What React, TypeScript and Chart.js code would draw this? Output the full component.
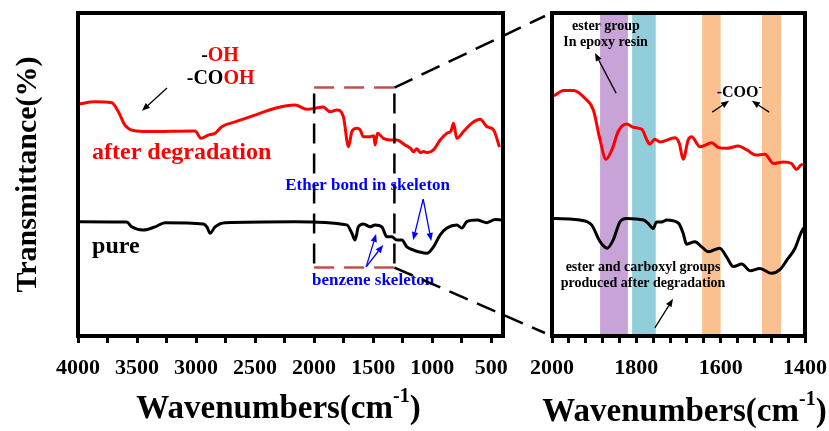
import React, { useEffect, useRef } from 'react';
import { Chart, registerables } from 'chart.js';
Chart.register(...registerables);

const FONT = "'Liberation Serif', 'Times New Roman', serif";

// ---------- Left panel: full spectrum ----------
const fullAfterWn = [4000, 3856, 3714, 3658, 3602, 3531, 3404, 3008, 2958, 2896, 2839, 2782, 2669, 2500, 2330, 2161, 2062, 1992, 1924, 1864, 1808, 1752, 1709, 1680, 1638, 1610, 1582, 1525, 1495, 1483, 1464, 1413, 1356, 1299, 1229, 1180, 1158, 1130, 1100, 1074, 1040, 989, 932, 875, 840, 819, 791, 735, 664, 593, 536, 480, 430];
const fullAfterT = [71.8, 72.5, 72.2, 69.4, 65.3, 63.6, 63.3, 63.5, 61.2, 62.2, 62.8, 64.8, 66.3, 68.4, 70.5, 71.5, 70.2, 70.5, 70.9, 69.4, 70.0, 67.9, 58.6, 63.3, 64.3, 63.8, 61.7, 61.7, 62.0, 59.1, 62.8, 61.2, 60.7, 60.7, 59.1, 58.0, 57.0, 58.0, 56.8, 57.1, 56.8, 57.6, 60.7, 62.8, 63.5, 65.9, 61.2, 63.3, 65.9, 67.1, 64.8, 63.8, 58.5];
const fullPureWn = [4000, 3587, 3545, 3447, 3347, 3263, 2938, 2907, 2881, 2839, 2754, 2161, 1723, 1681, 1653, 1625, 1582, 1525, 1483, 1426, 1384, 1341, 1299, 1257, 1214, 1158, 1116, 1045, 989, 932, 875, 791, 749, 706, 621, 536, 466, 410];
const fullPureT = [35.4, 35.3, 33.8, 32.8, 33.8, 35.1, 34.7, 33.7, 31.8, 33.8, 35.1, 35.4, 34.4, 31.9, 29.7, 33.8, 34.7, 33.8, 34.4, 33.8, 30.7, 30.7, 29.7, 29.7, 27.6, 26.6, 26.1, 25.6, 27.6, 31.3, 33.4, 34.4, 33.4, 35.4, 35.9, 35.1, 36.1, 35.9];
const fullTicks = [4000, 3750, 3500, 3250, 3000, 2750, 2500, 2250, 2000, 1750, 1500, 1250, 1000, 750, 500];
const fullTickLabels = [4000, 3500, 3000, 2500, 2000, 1500, 1000, 500];
const zoomBoxWn = [2000, 1320];
const zoomBoxT = [76.9, 21.2];

// ---------- Right panel: 2000-1400 zoom ----------
const zoomAfterWn = [2000, 1993, 1973, 1949, 1922, 1902, 1886, 1872, 1858, 1843, 1823, 1807, 1787, 1775, 1768, 1756, 1744, 1708, 1698, 1689, 1677, 1669, 1649, 1621, 1606, 1586, 1558, 1538, 1515, 1495, 1475, 1451, 1432, 1420, 1410, 1405];
const zoomAfterT = [74.3, 74.6, 76.0, 76.0, 73.6, 70.0, 60.7, 54.7, 57.6, 63.3, 65.6, 64.6, 64.0, 60.7, 59.4, 60.9, 60.1, 61.4, 59.6, 54.7, 60.7, 61.7, 58.6, 59.8, 58.4, 58.1, 58.8, 57.6, 56.0, 56.3, 53.4, 53.9, 53.4, 51.6, 52.9, 53.2];
const zoomPureWn = [2000, 1993, 1934, 1906, 1886, 1869, 1855, 1839, 1823, 1783, 1772, 1760, 1752, 1740, 1728, 1700, 1689, 1681, 1661, 1645, 1629, 1602, 1586, 1570, 1550, 1530, 1507, 1479, 1459, 1443, 1424, 1410, 1403];
const zoomPureT = [36.4, 36.4, 35.9, 34.4, 29.2, 27.2, 29.7, 35.3, 36.4, 35.9, 34.9, 33.3, 35.3, 35.3, 35.9, 34.9, 31.8, 28.4, 29.2, 27.6, 26.1, 27.2, 24.5, 21.5, 22.3, 20.2, 20.9, 19.4, 20.6, 23.5, 27.1, 31.8, 33.5];
const zoomTicks = [2000, 1960, 1920, 1880, 1840, 1800, 1760, 1720, 1680, 1640, 1600, 1560, 1520, 1480, 1440, 1400];
const zoomTickLabels = [2000, 1800, 1600, 1400];
const bandStartWn = [1886, 1810, 1644, 1502];
const bandEndWn = [1820, 1754, 1600, 1457];
const bandColors = ['rgb(200,163,215)', 'rgb(146,205,220)', 'rgb(250,192,144)', 'rgb(250,192,144)'];

type Part = { t: string; c?: string; sup?: boolean };
type Label = { parts: Part[]; wn: number; v: number; size: number; align: 'left' | 'center' };
type Arrow = { from: [number, number]; to: [number, number]; color: string };

const RED = '#ff0000';
const BLUE = '#0000ff';
const BLACK = '#000000';

const leftLabels: Label[] = [
  { parts: [{ t: '-', c: BLACK }, { t: 'OH', c: RED }], wn: 2797, v: 86.7, size: 20, align: 'center' },
  { parts: [{ t: '-CO', c: BLACK }, { t: 'OH', c: RED }], wn: 2792, v: 79.5, size: 20, align: 'center' },
  { parts: [{ t: 'after degradation', c: RED }], wn: 3881, v: 56.6, size: 24, align: 'left' },
  { parts: [{ t: 'pure', c: BLACK }], wn: 3881, v: 27.7, size: 24, align: 'left' },
  { parts: [{ t: 'Ether bond in skeleton', c: BLUE }], wn: 1547, v: 46.5, size: 17, align: 'center' },
  { parts: [{ t: 'benzene skeleton', c: BLUE }], wn: 1500, v: 17.1, size: 17, align: 'center' },
];
const leftArrows: Arrow[] = [
  { from: [3246, 76.8], to: [3458, 69.7], color: BLACK },
  { from: [1076, 42.4], to: [1161, 29.7], color: BLUE },
  { from: [1076, 42.4], to: [1008, 29.4], color: BLUE },
  { from: [1559, 21.4], to: [1475, 31.6], color: BLUE },
  { from: [1559, 21.4], to: [1415, 28.2], color: BLUE },
];
const rightLabels: Label[] = [
  { parts: [{ t: 'ester group' }], wn: 1872, v: 96.0, size: 14, align: 'center' },
  { parts: [{ t: 'In epoxy resin' }], wn: 1873, v: 91.0, size: 14, align: 'center' },
  { parts: [{ t: '-COO' }, { t: '-', sup: true }], wn: 1556, v: 75.2, size: 16, align: 'center' },
  { parts: [{ t: 'ester and carboxyl groups' }], wn: 1784, v: 21.1, size: 14, align: 'center' },
  { parts: [{ t: 'produced after degradation' }], wn: 1784, v: 16.4, size: 14, align: 'center' },
];
const rightArrows: Arrow[] = [
  { from: [1848, 75.2], to: [1898, 87.6], color: BLACK },
  { from: [1620, 69.3], to: [1580, 72.8], color: BLACK },
  { from: [1485, 69.3], to: [1526, 72.8], color: BLACK },
  { from: [1756, 2.5], to: [1713, 11.5], color: BLACK },
];

function drawParts(ctx: CanvasRenderingContext2D, parts: Part[], x: number, y: number, size: number, align: string) {
  const main = `bold ${size}px ${FONT}`;
  const sup = `bold ${Math.round(size * 0.62)}px ${FONT}`;
  const widths = parts.map((p) => {
    ctx.font = p.sup ? sup : main;
    return ctx.measureText(p.t).width;
  });
  const total = widths.reduce((a, b) => a + b, 0);
  let cx = align === 'left' ? x : x - total / 2;
  ctx.textAlign = 'left';
  ctx.textBaseline = 'middle';
  parts.forEach((p, i) => {
    ctx.font = p.sup ? sup : main;
    ctx.fillStyle = p.c || BLACK;
    ctx.fillText(p.t, cx, p.sup ? y - size * 0.38 : y);
    cx += widths[i];
  });
}

function drawArrow(ctx: CanvasRenderingContext2D, x1: number, y1: number, x2: number, y2: number, color: string) {
  const head = 8;
  const ang = Math.atan2(y2 - y1, x2 - x1);
  const hx = x2 - head * Math.cos(ang);
  const hy = y2 - head * Math.sin(ang);
  ctx.strokeStyle = color;
  ctx.fillStyle = color;
  ctx.lineWidth = 1.3;
  ctx.setLineDash([]);
  ctx.beginPath();
  ctx.moveTo(x1, y1);
  ctx.lineTo(hx, hy);
  ctx.stroke();
  ctx.beginPath();
  ctx.moveTo(x2, y2);
  ctx.lineTo(hx + head * 0.4 * Math.sin(ang), hy - head * 0.4 * Math.cos(ang));
  ctx.lineTo(hx - head * 0.4 * Math.sin(ang), hy + head * 0.4 * Math.cos(ang));
  ctx.closePath();
  ctx.fill();
}

function drawXTitle(chart: any, cx: number, cy: number) {
  const ctx = chart.ctx as CanvasRenderingContext2D;
  drawParts(ctx, [{ t: 'Wavenumbers(cm' }, { t: '-1', sup: true }, { t: ')' }], cx, cy, 33, 'center');
}

function annotate(chart: any, labels: Label[], arrows: Arrow[]) {
  const ctx = chart.ctx as CanvasRenderingContext2D;
  const xs = chart.scales.x;
  const ys = chart.scales.y;
  ctx.save();
  labels.forEach((l) => drawParts(ctx, l.parts, xs.getPixelForValue(l.wn), ys.getPixelForValue(l.v), l.size, l.align));
  arrows.forEach((a) =>
    drawArrow(ctx, xs.getPixelForValue(a.from[0]), ys.getPixelForValue(a.from[1]), xs.getPixelForValue(a.to[0]), ys.getPixelForValue(a.to[1]), a.color)
  );
  ctx.restore();
}

function drawFrame(chart: any) {
  const { ctx, chartArea: a } = chart;
  ctx.save();
  ctx.strokeStyle = BLACK;
  ctx.lineWidth = 4;
  ctx.setLineDash([]);
  ctx.strokeRect(a.left, a.top, a.right - a.left, a.bottom - a.top);
  ctx.restore();
}

function toPoints(xs: number[], ys: number[]) {
  return xs.map((x, i) => ({ x, y: ys[i] }));
}

function xScale(min: number, max: number, ticks: number[], labels: number[]) {
  return {
    type: 'linear',
    reverse: true,
    min,
    max,
    afterFit: (s: any) => {
      s.height = 95;
      s.paddingLeft = 0;
      s.paddingRight = 0;
    },
    afterBuildTicks: (s: any) => { s.ticks = ticks.map((v) => ({ value: v })); },
    ticks: {
      autoSkip: false,
      maxRotation: 0,
      padding: 12,
      color: BLACK,
      font: { family: FONT, size: 22, weight: 'bold' },
      callback: (v: number) => (labels.includes(v) ? String(v) : ''),
    },
    grid: { display: true, drawOnChartArea: false, drawTicks: true, tickLength: 7, tickWidth: 3, tickColor: BLACK },
    border: { display: false },
  };
}

function lineDataset(data: any[], color: string) {
  return {
    data,
    borderColor: color,
    backgroundColor: color,
    borderWidth: 3,
    pointRadius: 0,
    cubicInterpolationMode: 'monotone',
    fill: false,
  };
}

export default function App() {
  const leftRef = useRef<HTMLCanvasElement>(null);
  const rightRef = useRef<HTMLCanvasElement>(null);

  useEffect(() => {
    const leftPlugin = {
      id: 'leftDecor',
      afterDatasetsDraw(chart: any) {
        const ctx = chart.ctx as CanvasRenderingContext2D;
        const xs = chart.scales.x;
        const ys = chart.scales.y;
        const x1 = xs.getPixelForValue(zoomBoxWn[0]);
        const x2 = xs.getPixelForValue(zoomBoxWn[1]);
        const yt = ys.getPixelForValue(zoomBoxT[0]);
        const yb = ys.getPixelForValue(zoomBoxT[1]);
        ctx.save();
        ctx.lineWidth = 2.5;
        ctx.setLineDash([20, 10]);
        ctx.strokeStyle = 'rgb(192,80,77)';
        ctx.beginPath();
        ctx.moveTo(x1, yt); ctx.lineTo(x2, yt);
        ctx.moveTo(x1, yb); ctx.lineTo(x2, yb);
        ctx.stroke();
        ctx.strokeStyle = BLACK;
        ctx.beginPath();
        ctx.moveTo(x1, yt + 6); ctx.lineTo(x1, yb);
        ctx.moveTo(x2, yt + 6); ctx.lineTo(x2, yb);
        ctx.stroke();
        ctx.restore();
        annotate(chart, leftLabels, leftArrows);
      },
      afterDraw(chart: any) {
        drawFrame(chart);
        const ctx = chart.ctx as CanvasRenderingContext2D;
        const xs = chart.scales.x;
        const ys = chart.scales.y;
        const x2 = xs.getPixelForValue(zoomBoxWn[1]);
        const yt = ys.getPixelForValue(zoomBoxT[0]);
        const yb = ys.getPixelForValue(zoomBoxT[1]);
        const a = chart.chartArea;
        const ex = chart.width - 7;
        ctx.save();
        ctx.lineWidth = 2.5;
        ctx.strokeStyle = BLACK;
        ctx.setLineDash([20, 10]);
        ctx.beginPath();
        ctx.moveTo(x2, yt); ctx.lineTo(ex, a.top + 3);
        ctx.stroke();
        ctx.beginPath();
        ctx.moveTo(x2, yb); ctx.lineTo(ex, a.bottom - 3);
        ctx.stroke();
        ctx.restore();
        ctx.save();
        drawXTitle(chart, (a.left + a.right) / 2 - 12, 409);
        ctx.restore();
      },
    };

    const rightPlugin = {
      id: 'rightDecor',
      beforeDatasetsDraw(chart: any) {
        const ctx = chart.ctx as CanvasRenderingContext2D;
        const xs = chart.scales.x;
        const a = chart.chartArea;
        ctx.save();
        bandStartWn.forEach((s, i) => {
          const p1 = xs.getPixelForValue(s);
          const p2 = xs.getPixelForValue(bandEndWn[i]);
          ctx.fillStyle = bandColors[i];
          ctx.fillRect(Math.min(p1, p2), a.top, Math.abs(p2 - p1), a.bottom - a.top);
        });
        ctx.restore();
      },
      afterDatasetsDraw(chart: any) {
        annotate(chart, rightLabels, rightArrows);
      },
      afterDraw(chart: any) {
        drawFrame(chart);
        const a = chart.chartArea;
        chart.ctx.save();
        drawXTitle(chart, (a.left + a.right) / 2 + 6, 412);
        chart.ctx.restore();
      },
    };

    const left = new Chart(leftRef.current as HTMLCanvasElement, {
      type: 'line',
      data: {
        datasets: [
          lineDataset(toPoints(fullAfterWn, fullAfterT), RED),
          lineDataset(toPoints(fullPureWn, fullPureT), BLACK),
        ],
      },
      options: {
        responsive: false,
        animation: false,
        devicePixelRatio: 1,
        layout: { padding: { top: 13, right: 49, bottom: 0, left: 0 } },
        plugins: { legend: { display: false }, tooltip: { enabled: false } },
        scales: {
          x: xScale(400, 4000, fullTicks, fullTickLabels),
          y: {
            type: 'linear',
            min: 0,
            max: 100,
            afterFit: (s: any) => { s.width = 78; },
            ticks: { display: false },
            grid: { display: false },
            border: { display: false },
            title: {
              display: true,
              text: 'Transmittance(%)',
              color: BLACK,
              font: { family: FONT, size: 30, weight: 'bold' },
              padding: { top: 10, bottom: 0 },
            },
          },
        },
      } as any,
      plugins: [leftPlugin],
    } as any);

    const right = new Chart(rightRef.current as HTMLCanvasElement, {
      type: 'line',
      data: {
        datasets: [
          lineDataset(toPoints(zoomAfterWn, zoomAfterT), RED),
          lineDataset(toPoints(zoomPureWn, zoomPureT), BLACK),
        ],
      },
      options: {
        responsive: false,
        animation: false,
        devicePixelRatio: 1,
        layout: { padding: { top: 13, right: 24, bottom: 0, left: 32 } },
        plugins: { legend: { display: false }, tooltip: { enabled: false } },
        scales: {
          x: xScale(1400, 2000, zoomTicks, zoomTickLabels),
          y: { type: 'linear', min: 0, max: 100, display: false },
        },
      } as any,
      plugins: [rightPlugin],
    } as any);

    return () => {
      left.destroy();
      right.destroy();
    };
  }, []);

  return (
    <div style={{ position: 'absolute', left: 0, top: 0, width: 829, height: 431, background: '#ffffff', overflow: 'hidden' }}>
      <canvas ref={leftRef} width={552} height={431} style={{ position: 'absolute', left: 0, top: 0, width: 552, height: 431 }} />
      <canvas ref={rightRef} width={309} height={431} style={{ position: 'absolute', left: 520, top: 0, width: 309, height: 431 }} />
    </div>
  );
}
